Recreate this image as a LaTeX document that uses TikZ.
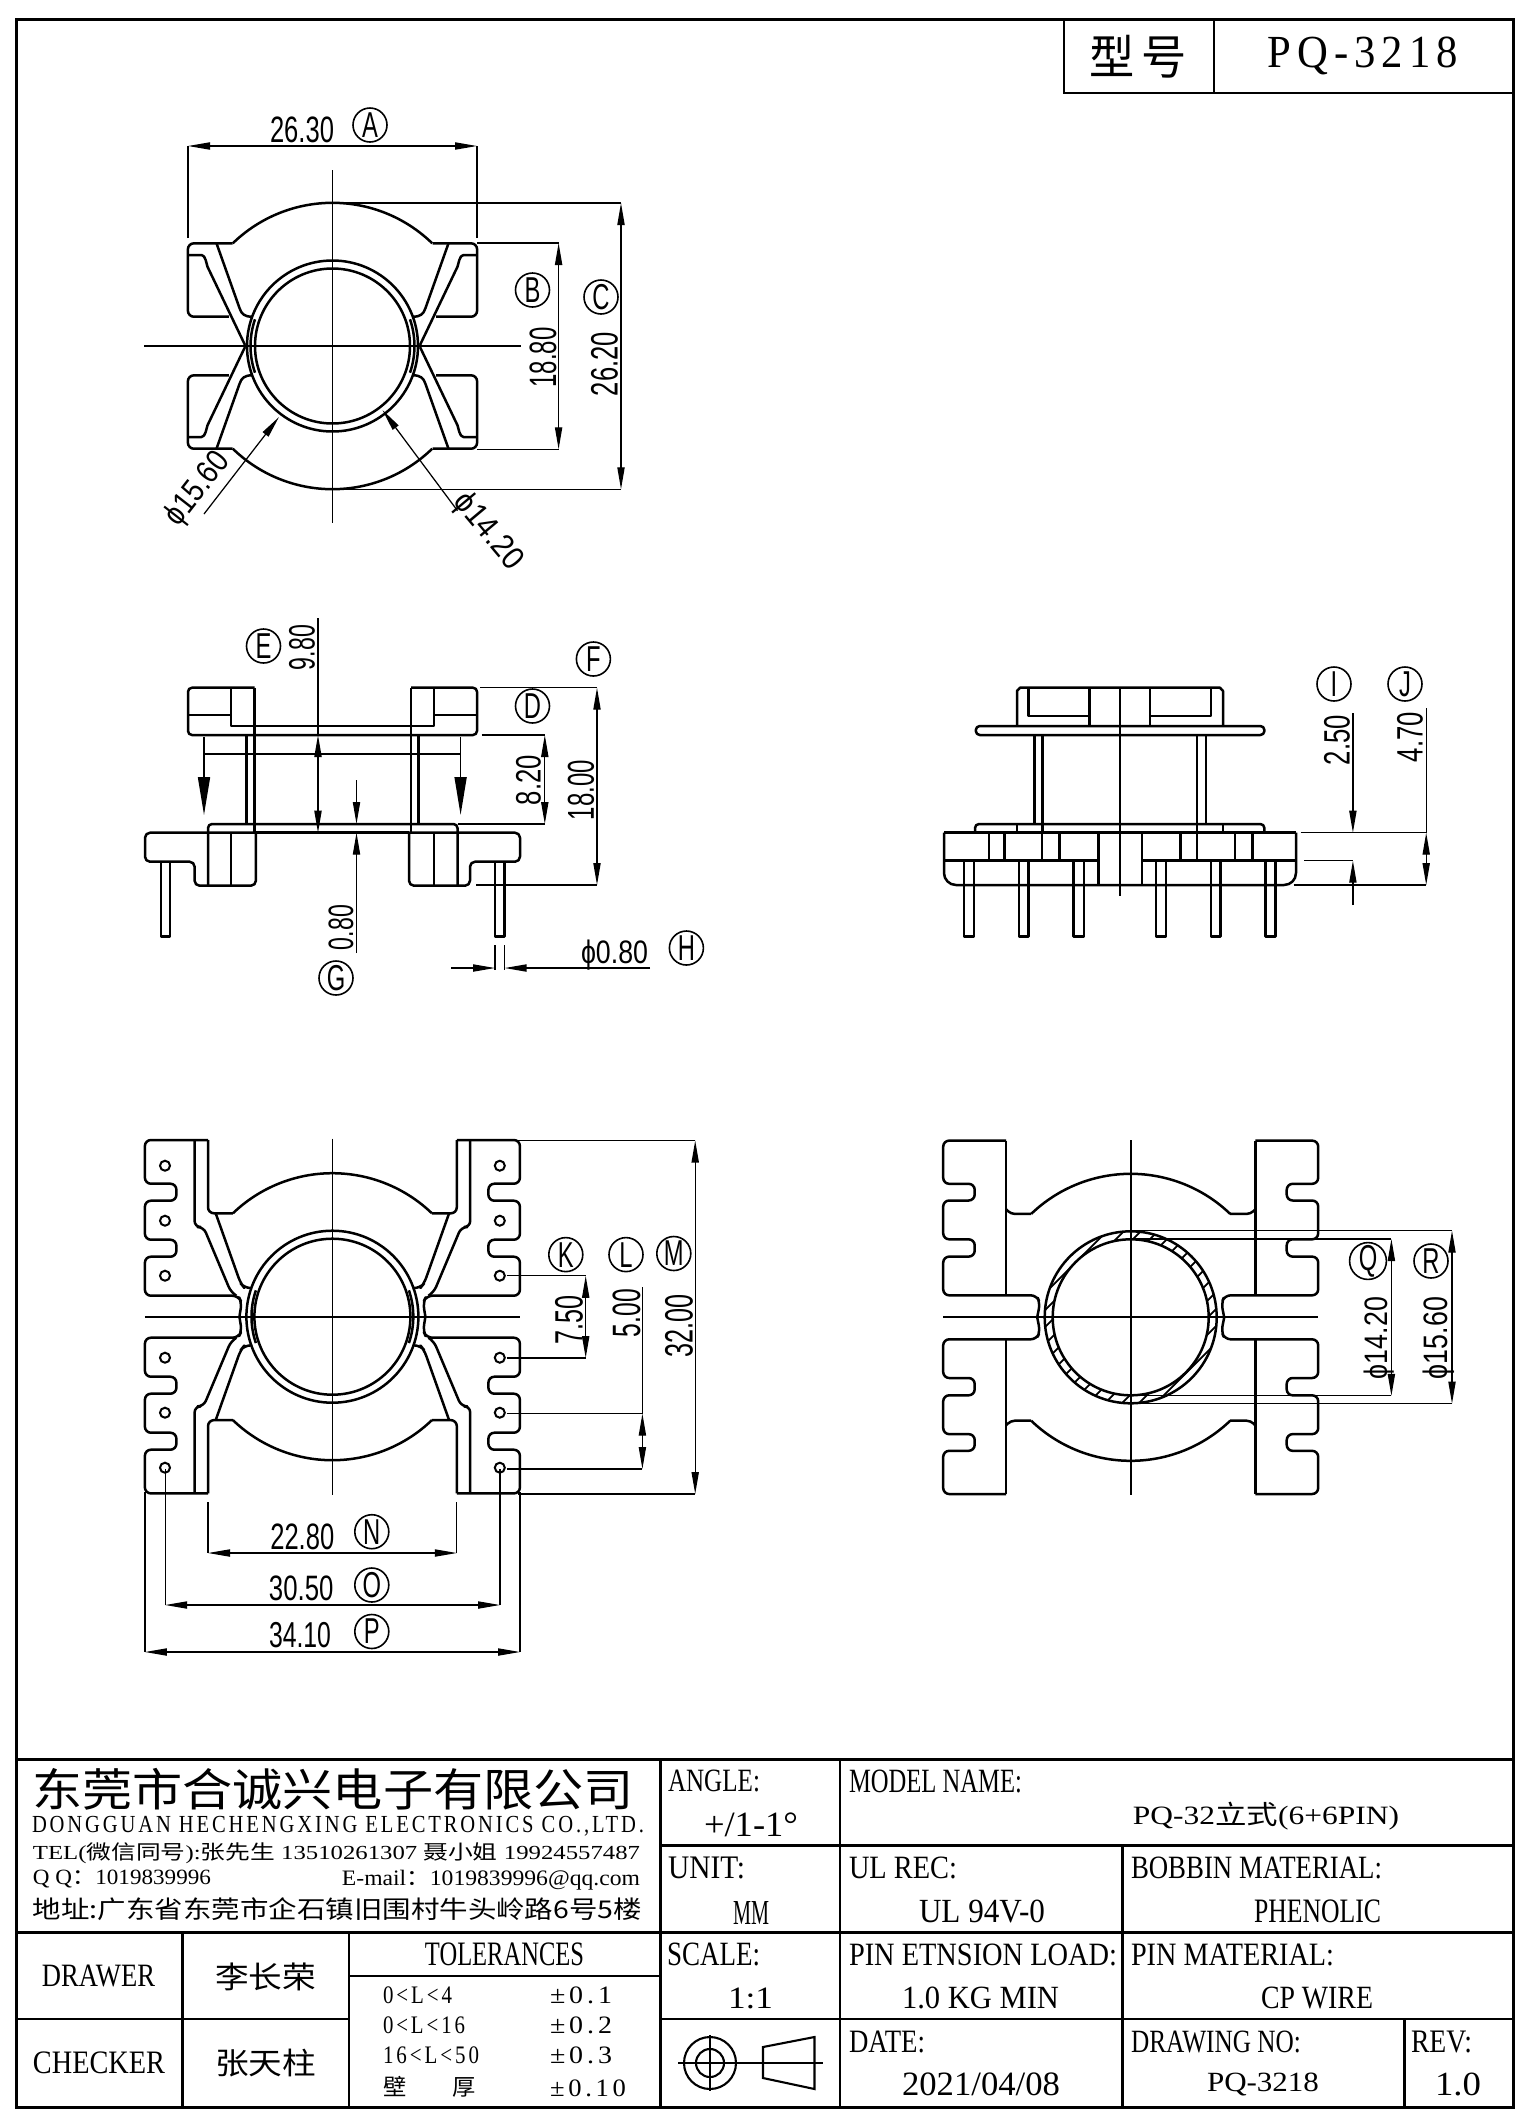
\documentclass[tikz,border=0pt]{standalone}
\usepackage{graphicx}
\usepackage{fontspec}
\usetikzlibrary{arrows.meta}
\setmainfont{Liberation Serif}
\setsansfont{Liberation Sans}
\newfontfamily\cjfont{Noto Sans CJK SC}
\newfontfamily\lsfont[LetterSpace=14]{Liberation Serif}
\newfontfamily\labfont[FakeStretch=.66]{Liberation Sans}
\newcommand\cj[1]{{\cjfont #1}}
\newcommand\ph{\smash{ϕ}}
\newcommand\tb[5]{\pgfmathsetlengthmacro\twd{(#2-#1)*.5pt}\pgfmathsetlengthmacro\tht{(#4-#3)*.5pt}%
  \node[inner sep=0pt] at ({(#1+#2)/2},{(#3+#4)/2}) {\resizebox*{\twd}{\tht}{#5}};}
\newcommand\dm[6]{\pgfmathsetlengthmacro\twd{#3*.5pt}\pgfmathsetlengthmacro\tht{#4*.5pt}%
  \node[inner sep=0pt,rotate=#5] at (#1,#2) {\resizebox*{\twd}{\tht}{\sffamily #6}};}
\tikzset{
  ol/.style={line width=1.25pt,line join=round},
  frm/.style={line width=1.5pt},
  cell/.style={line width=1.05pt},
  dl/.style={line width=.62pt},
  cl/.style={line width=.85pt},
  hat/.style={line width=.9pt},
  arr/.style={dl,{Triangle[length=11pt,width=3.6pt]}-{Triangle[length=11pt,width=3.6pt]}},
  arh/.style={dl,-{Triangle[length=11pt,width=3.6pt]}},
  bigarh/.style={line width=.85pt,-{Triangle[length=19pt,width=6pt]}},
  lab/.style={circle,draw,line width=.8pt,minimum size=17pt,inner sep=0pt,font=\labfont\fontsize{18}{18}\selectfont},
}
\begin{document}
\begin{tikzpicture}[x=.5pt,y=.5pt,yscale=-1]
\useasboundingbox (0,0) rectangle (1531,2122);
% ---------- frame
\draw[frm] (16,19) rectangle (1513,2107);
\draw[frm] (16,1759) -- (1513,1759);
\draw[cell] (1064,19) -- (1064,93) -- (1513,93);
\draw[cell] (1214,19) -- (1214,93);
\tb{1089}{1187}{35}{78}{\cj{型\,号}}
\tb{1268}{1458}{37}{75}{\lsfont PQ-3218}
% ---------- title block
\draw[frm] (660.5,1845.5) -- (1513,1845.5);
\draw[frm] (16,1932.5) -- (1513,1932.5);
\draw[cell] (660.5,2019) -- (1513,2019);
\draw[cell] (16,2019) -- (349,2019);
\draw[cell] (349,1976) -- (660.5,1976);
\draw[cell] (660.5,1759) -- (660.5,2107);
\draw[cell] (840,1759) -- (840,2107);
\draw[cell] (1122.5,1845.5) -- (1122.5,2107);
\draw[cell] (1404.5,2019) -- (1404.5,2107);
\draw[cell] (182.5,1932.5) -- (182.5,2107);
\draw[cell] (349,1932.5) -- (349,2107);
\tb{32}{634}{1768}{1810}{\cj{东莞市合诚兴电子有限公司}}
\tb{32}{644}{1816}{1836}{\lsfont DONGGUAN HECHENGXING ELECTRONICS CO.,LTD.}
\tb{33}{640}{1843}{1864}{TEL(\cj{微信同号}):\cj{张先生} 13510261307 \cj{聂小姐} 19924557487}
\tb{33}{211}{1870}{1888}{Q Q\cj{：}1019839996}
\tb{342}{640}{1870}{1890}{E-mail\cj{：}1019839996@qq.com}
\tb{33}{642}{1898}{1921}{\cj{地址:广东省东莞市企石镇旧围村牛头岭路6号5楼}}
\tb{42}{155}{1965}{1987}{DRAWER}
\tb{215}{316}{1963}{1991}{\cj{李长荣}}
\tb{33}{165}{2052}{2074}{CHECKER}
\tb{215}{316}{2049}{2077}{\cj{张天柱}}
\tb{425}{584}{1943}{1966}{TOLERANCES}
\tb{383}{452}{1987}{2004}{\lsfont 0<L<4}
\tb{383}{465}{2017}{2034}{\lsfont 0<L<16}
\tb{383}{479}{2047}{2064}{\lsfont 16<L<50}
\tb{383}{476}{2076}{2097}{\cj{壁\hspace{2em}厚}}
\tb{550}{612}{1987}{2004}{\lsfont ±0.1}
\tb{550}{612}{2017}{2034}{\lsfont ±0.2}
\tb{550}{612}{2047}{2064}{\lsfont ±0.3}
\tb{550}{626}{2080}{2097}{\lsfont ±0.10}
\tb{668}{760}{1770}{1792}{ANGLE:}
\tb{704}{798}{1813}{1837}{+/1-1°}
\tb{668}{745}{1857}{1879}{UNIT:}
\tb{733}{769}{1901}{1924}{MM}
\tb{667}{760}{1943}{1966}{SCALE:}
\tb{728}{773}{1988}{2009}{1:1}
\tb{849}{1022}{1770}{1793}{MODEL NAME:}
\tb{1133}{1399}{1802}{1830}{PQ-32\cj{立式}(6+6PIN)}
\tb{849}{957}{1857}{1879}{UL REC:}
\tb{919}{1045}{1900}{1923}{UL 94V-0}
\tb{1131}{1382}{1857}{1879}{BOBBIN MATERIAL:}
\tb{1254}{1381}{1900}{1923}{PHENOLIC}
\tb{849}{1117}{1944}{1966}{PIN ETNSION LOAD:}
\tb{902}{1059}{1987}{2009}{1.0 KG MIN}
\tb{1131}{1334}{1944}{1966}{PIN MATERIAL:}
\tb{1261}{1373}{1987}{2009}{CP WIRE}
\tb{849}{925}{2031}{2053}{DATE:}
\tb{902}{1060}{2073}{2096}{2021/04/08}
\tb{1131}{1301}{2031}{2053}{DRAWING NO:}
\tb{1207}{1319}{2073}{2096}{PQ-3218}
\tb{1411}{1472}{2031}{2053}{REV:}
\tb{1435}{1481}{2073}{2096}{1.0}
% projection symbol
\draw[cell] (710,2063) circle[radius=26] (710,2063) circle[radius=14];
\draw[cell] (678,2063) -- (823,2063) (710,2035) -- (710,2091);
\draw[cell] (763,2047) -- (814.5,2037) -- (814.5,2089) -- (763,2078) -- cycle;
% ---------- top view
\begin{scope}[shift={(332.5,346)}]
\foreach \sx in {1,-1}\foreach \sy in {1,-1}{
\begin{scope}[xscale=\sx,yscale=\sy]
 \draw[ol,rounded corners=3pt] (-100,-102.7) -- (-144.6,-102.7) -- (-144.6,-29.3) -- (-103.6,-29.3);
 \draw[ol] (-99.7,-102.7) arc[start angle=225.8,end angle=270,radius=143];
 \draw[ol] (-144.6,-91) -- (-131,-91) .. controls (-127,-91) and (-126,-82) .. (-125,-79.3) -- (-87.5,-1);
 \draw[ol] (-116,-102.7) -- (-92.9,-37.7) .. controls (-91,-32) and (-88,-29.3) .. (-80.4,-29.3);
\end{scope}}
\draw[ol] (0,0) circle[radius=85.5] (0,0) circle[radius=77.5];
\draw[ol] (-77.5,-26.7) arc[start angle=199,end angle=161,radius=82];
\draw[ol] (77.5,-26.7) arc[start angle=-19,end angle=19,radius=82];
\draw[cl] (0,-176) -- (0,177) (-188.5,0) -- (188.5,0);
\end{scope}
% dims top view
\draw[dl] (188,238) -- (188,146) (477,238) -- (477,146);
\draw[arr] (188,146) -- (477,146);
\dm{302}{130}{64}{26}{0}{26.30}
\node[lab] (labA) at (370,125) {A};
\draw[dl] (477,243) -- (558.6,243) (477,449.3) -- (558.6,449.3);
\draw[arr] (558.6,243) -- (558.6,449.3);
\dm{543}{357.5}{60}{27}{90}{18.80}
\node[lab] (labB) at (532.5,290) {B};
\draw[dl] (332.5,203) -- (621,203) (332.5,489.3) -- (621,489.3);
\draw[arr] (621,203) -- (621,489.3);
\dm{604.5}{364}{64}{27}{90}{26.20}
\node[lab] (labC) at (601,297) {C};
\draw[arh] (204,514) -- (279,417);
\dm{196}{488}{84}{23}{52}{\ph15.60}
\draw[arh] (457.5,510.7) -- (382.5,410);
\dm{490}{530}{90}{23}{-50}{\ph14.20}
% ---------- side view left
\begin{scope}[ol]
\draw[rounded corners=2pt] (254.7,687.7) -- (188,687.7) -- (188,735) -- (477,735) -- (477,687.7) -- (411,687.7);
\draw (231,687.7) -- (231,726) -- (433.8,726) -- (433.8,687.7);
\draw (188,715) -- (231,715) (433.8,715) -- (477,715);
\draw (254.7,687.7) -- (254.7,832.7) (411,687.7) -- (411,832.7);
\draw (246.3,735) -- (246.3,824) (418.5,735) -- (418.5,824);
\draw[rounded corners=2pt] (208,885.7) -- (208,824) -- (457.5,824) -- (457.5,885.7);
\draw[rounded corners=2.5pt] (255.9,832.7) -- (145,832.7) -- (145,861.7) -- (194.6,861.7) -- (194.6,885.7) -- (255.9,885.7) -- (255.9,832.7);
\draw[rounded corners=2.5pt] (409,832.7) -- (520,832.7) -- (520,861.7) -- (470,861.7) -- (470,885.7) -- (409,885.7) -- (409,832.7);
\draw (255.9,832.7) -- (409,832.7);
\draw (231,832.7) -- (231,885.7) (433.8,832.7) -- (433.8,885.7);
\draw (161,861.7) -- (161,936.7) -- (169.8,936.7) -- (169.8,861.7);
\draw (495,861.7) -- (495,936.7) -- (504.6,936.7) -- (504.6,861.7);
\end{scope}
\draw[cl] (204,754) -- (460.6,754);
\draw[bigarh] (204,737) -- (204,815);
\draw[bigarh] (460.6,737) -- (460.6,815);
\draw[dl] (318,618) -- (318,735);
\draw[arr] (318,735) -- (318,832.7);
\dm{302}{647.5}{45}{26}{90}{9.80}
\node[lab] (labE) at (263.5,646) {E};
\draw[arh] (356.5,780) -- (356.5,824);
\draw[arh] (356.5,953) -- (356.5,832.7);
\dm{341}{927.5}{45}{25}{90}{0.80}
\node[lab] (labG) at (336,978) {G};
\draw[dl] (481.6,735) -- (545,735) (457.5,824) -- (545,824);
\draw[arr] (544.8,735) -- (544.8,824);
\dm{528.5}{780}{50}{25}{90}{8.20}
\draw[dl] (480,687.7) -- (597,687.7) (476,885) -- (597,885);
\draw[arr] (597,687.7) -- (597,885);
\dm{581}{790}{60}{26.5}{90}{18.00}
\node[lab] (labF) at (593.4,659) {F};
\node[lab] (labD) at (532.5,706) {D};
\draw[dl] (495,945) -- (495,970) (504.6,945) -- (504.6,970);
\draw[arh] (451,968) -- (495,968);
\draw[arh] (650,968) -- (504.6,968);
\dm{614.5}{952.5}{67}{23}{0}{\ph0.80}
\node[lab] (labH) at (686.4,948) {H};
% ---------- side view right
\begin{scope}[ol]
\draw (1017,726) -- (1017,691) -- (1020,687.7) -- (1220,687.7) -- (1223,691) -- (1223,726);
\draw (1028.5,687.7) -- (1028.5,716) -- (1089.4,716) (1089.4,687.7) -- (1089.4,726);
\draw (1150,687.7) -- (1150,726) (1150,716) -- (1211,716) -- (1211,687.7);
\draw[rounded corners=2pt] (975.8,726) rectangle (1264.4,735);
\draw (1034.3,735) -- (1034.3,824) (1205.8,735) -- (1205.8,824);
\draw (1042.6,735) -- (1042.6,832.7) (1197.2,735) -- (1197.2,832.7);
\draw[rounded corners=2pt] (975,832.7) -- (975,824) -- (1264.4,824) -- (1264.4,832.7);
\draw (1017,824) -- (1017,832.7) (1223,824) -- (1223,832.7);
\draw[rounded corners=6pt] (1120,885) -- (944,885) -- (944,832.7);
\draw[rounded corners=6pt] (1120,885) -- (1296,885) -- (1296,832.7);
\draw (944,832.7) -- (1296,832.7);
\draw (944,860.7) -- (1098.4,860.7) (1142,860.7) -- (1296,860.7);
\draw (988.9,832.7) -- (988.9,860.7) (1004.4,832.7) -- (1004.4,860.7);
\draw (1042.2,832.7) -- (1042.2,860.7) (1059.5,832.7) -- (1059.5,860.7);
\draw (1098.4,832.7) -- (1098.4,885) (1142,832.7) -- (1142,885);
\draw (1180.7,832.7) -- (1180.7,860.7) (1197.2,832.7) -- (1197.2,860.7);
\draw (1235,832.7) -- (1235,860.7) (1252.3,832.7) -- (1252.3,860.7);
\foreach \a/\b in {964/974,1018.8/1028.5,1073.6/1084,1156.2/1165.9,1211/1220.6,1265.4/1275.7}{
  \draw (\a,860.7) -- (\a,936.7) -- (\b,936.7) -- (\b,860.7);}
\end{scope}
\draw[cl] (1120,687.7) -- (1120,896);
\draw[dl] (1300.5,832.7) -- (1426,832.7) (1304,860.7) -- (1353,860.7) (1293.6,885) -- (1426,885);
\draw[arh] (1352.9,713) -- (1352.9,832.7);
\draw[arh] (1352.9,905) -- (1352.9,860.7);
\dm{1337}{740}{50}{26}{90}{2.50}
\node[lab] (labI) at (1334,684) {I};
\draw[dl] (1426.2,708) -- (1426.2,832.7);
\draw[arr] (1426.2,832.7) -- (1426.2,885);
\dm{1410}{737}{50}{26}{90}{4.70}
\node[lab] (labJ) at (1405,684) {J};
% ---------- bottom view left
\begin{scope}[shift={(332.4,1316.7)}]
\foreach \sx in {1,-1}\foreach \sy in {1,-1}{
\begin{scope}[xscale=\sx,yscale=\sy]
 \draw[ol,rounded corners=3pt] (-124.4,-176.7) -- (-187.5,-176.7) -- (-187.5,-133) -- (-156,-133) -- (-156,-116) -- (-187.5,-116) -- (-187.5,-77) -- (-156,-77) -- (-156,-60) -- (-187.5,-60) -- (-187.5,-21) -- (-94,-21) -- (-90.7,-14) -- (-93,0);
 \draw[ol,rounded corners=3pt] (-137.8,-176.7) -- (-137.8,-89.7) -- (-128.9,-89.7) -- (-101.4,-24.4) -- (-96,-21);
 \draw[ol,rounded corners=3pt] (-124.4,-176.7) -- (-124.4,-103.4) -- (-99.5,-103.4);
 \draw[ol] (-99.5,-103.4) arc[start angle=226.1,end angle=270,radius=143.5];
 \draw[ol,rounded corners=3pt] (-116.7,-103.4) -- (-91.8,-33.4) -- (-88,-28.7) -- (-80.4,-28.7);
 \foreach \hy in {-151,-96,-41}{\draw[line width=1pt] (-167.4,\hy) circle[radius=5];}
\end{scope}}
\draw[ol] (0,0) circle[radius=86] (0,0) circle[radius=78];
\draw[ol] (-76.5,-26.4) arc[start angle=199,end angle=161,radius=81];
\draw[ol] (76.5,-26.4) arc[start angle=-19,end angle=19,radius=81];
\draw[cl] (0,-178) -- (0,178) (-187.5,0) -- (187.5,0);
\end{scope}
% dims bottom left
\draw[dl] (506.5,1275.8) -- (585.7,1275.8) (506.5,1358) -- (585.7,1358);
\draw[arr] (585.7,1275.8) -- (585.7,1358);
\dm{569}{1319.5}{49}{28}{90}{7.50}
\node[lab] (labK) at (565.8,1254.6) {K};
\draw[dl] (506.5,1413.6) -- (642.4,1413.6) (506.5,1469) -- (642.4,1469) (642.4,1287) -- (642.4,1413.6);
\draw[arr] (642.4,1413.6) -- (642.4,1469);
\dm{626.5}{1313}{48}{28}{90}{5.00}
\node[lab] (labL) at (626,1254.6) {L};
\draw[dl] (516,1140.5) -- (695.2,1140.5) (518,1494) -- (695.2,1494);
\draw[arr] (695.2,1140.5) -- (695.2,1494);
\dm{679}{1325.5}{63}{28}{90}{32.00}
\node[lab] (labM) at (673.8,1253.5) {M};
\draw[dl] (208,1502) -- (208,1553) (456.8,1502) -- (456.8,1553);
\draw[arr] (208,1553) -- (456.8,1553);
\dm{302.3}{1537}{64}{26}{0}{22.80}
\node[lab] (labN) at (371.8,1531.7) {N};
\draw[dl] (165.2,1469) -- (165.2,1605) (500,1469) -- (500,1605);
\draw[arr] (165.2,1605) -- (500,1605);
\dm{301.2}{1588.5}{64.5}{25}{0}{30.50}
\node[lab] (labO) at (371.8,1585) {O};
\draw[dl] (144.9,1491.5) -- (144.9,1652) (520,1491.5) -- (520,1652);
\draw[arr] (144.9,1652) -- (520,1652);
\dm{300}{1635}{62}{25.5}{0}{34.10}
\node[lab] (labP) at (371.8,1631.5) {P};
% ---------- bottom view right
\begin{scope}[shift={(1130.7,1317.3)}]
\foreach \sx in {1,-1}\foreach \sy in {1,-1}{
\begin{scope}[xscale=\sx,yscale=\sy]
 \draw[ol,rounded corners=3pt] (-124.6,-176.7) -- (-187.5,-176.7) -- (-187.5,-133.5) -- (-156,-133.5) -- (-156,-116.8) -- (-187.5,-116.8) -- (-187.5,-78) -- (-156,-78) -- (-156,-60.7) -- (-187.5,-60.7) -- (-187.5,-22) -- (-94,-22) -- (-90.7,-14) -- (-93.5,0);
 \draw[ol] (-124.6,-176.7) -- (-124.6,-22);
 \draw[ol,rounded corners=2pt] (-124.6,-108) -- (-120,-103.4) -- (-99.5,-103.4);
 \draw[ol] (-99.5,-103.4) arc[start angle=226.1,end angle=270,radius=143.5];
\end{scope}}
\begin{scope}
 \clip (0,0) circle[radius=86];
 \foreach \c in {-127,-110,...,127}{\draw[hat] ({\c+100},-100) -- ({\c-100},100);}
\end{scope}
\fill[white] (0,0) circle[radius=78];
\draw[ol] (0,0) circle[radius=86] (0,0) circle[radius=78];
\draw[cl] (0,-177) -- (0,178) (-187.5,0) -- (187.5,0);
\end{scope}
\draw[dl] (1130.7,1239) -- (1391.4,1239) (1130.7,1395.8) -- (1391.4,1395.8);
\draw[arr] (1391.4,1239) -- (1391.4,1395.8);
\dm{1376.5}{1338}{82}{23}{90}{\ph14.20}
\node[lab] (labQ) at (1368,1261) {Q};
\draw[dl] (1130.7,1230.7) -- (1452,1230.7) (1130.7,1403.6) -- (1452,1403.6);
\draw[arr] (1452,1230.7) -- (1452,1403.6);
\dm{1436}{1338}{82}{24}{90}{\ph15.60}
\node[lab] (labR) at (1431,1261) {R};
\end{tikzpicture}
\end{document}
